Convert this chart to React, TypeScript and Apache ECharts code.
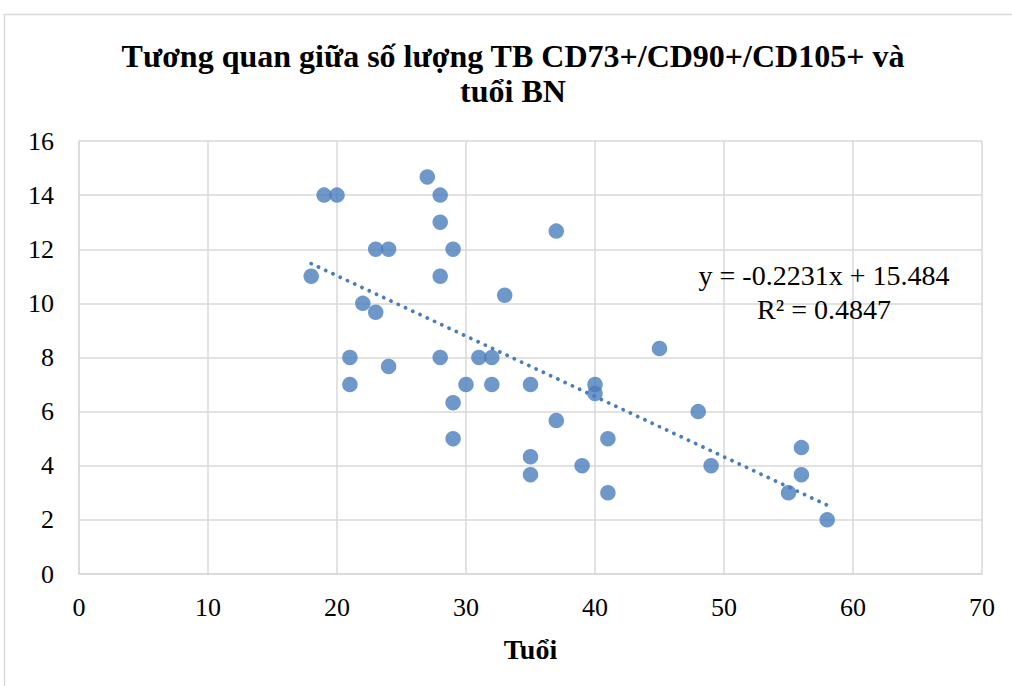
import React, { useEffect, useRef } from "react";
import * as echarts from "echarts";

const titleLines = ["Tương quan giữa số lượng TB CD73+/CD90+/CD105+ và", "tuổi BN"];
const xAxisName = "Tuổi";
const ages = [18, 19, 20, 21, 21, 22, 23, 23, 24, 24, 27, 28, 28, 28, 28, 29, 29, 29, 30, 31, 32, 32, 33, 35, 35, 35, 37, 37, 39, 40, 40, 41, 41, 45, 48, 49, 55, 56, 56, 58];
const counts = [11, 14, 14, 8, 7, 10, 12, 9.67, 12, 7.67, 14.67, 14, 13, 11, 8, 12, 6.33, 5, 7, 8, 8, 7, 10.3, 7, 4.33, 3.67, 12.67, 5.67, 4, 7, 6.67, 5, 3, 8.33, 6, 4, 3, 4.67, 3.67, 2];
const trendSlope = -0.2231;
const trendIntercept = 15.484;
const rSquared = 0.4847;
const xTicks = { min: 0, max: 70, interval: 10 };
const yTicks = { min: 0, max: 16, interval: 2 };

const FONT = "'Liberation Serif', 'Times New Roman', serif";

export default function App() {
  const ref = useRef<HTMLDivElement>(null);
  useEffect(() => {
    if (!ref.current) return;
    const chart = echarts.init(ref.current, undefined, { renderer: "svg" });
    const xMin = Math.min(...ages);
    const xMax = Math.max(...ages);
    const trend = [
      [xMin, trendSlope * xMin + trendIntercept],
      [xMax, trendSlope * xMax + trendIntercept],
    ];
    chart.setOption({
      animation: false,
      backgroundColor: "#ffffff",
      grid: { left: 79, right: 30, top: 141, bottom: 112, containLabel: false },
      xAxis: {
        type: "value",
        min: xTicks.min,
        max: xTicks.max,
        interval: xTicks.interval,
        name: xAxisName,
        nameLocation: "middle",
        nameGap: 61,
        nameTextStyle: { fontFamily: FONT, fontSize: 28, fontWeight: "bold", color: "#000" },
        axisLine: { show: true, lineStyle: { color: "#d9d9d9", width: 1.5 } },
        axisTick: { show: false },
        axisLabel: { fontFamily: FONT, fontSize: 26, color: "#000", margin: 20 },
        splitLine: { show: true, lineStyle: { color: "#d9d9d9", width: 1.5 } },
      },
      yAxis: {
        type: "value",
        min: yTicks.min,
        max: yTicks.max,
        interval: yTicks.interval,
        axisLine: { show: true, lineStyle: { color: "#d9d9d9", width: 1.5 } },
        axisTick: { show: false },
        axisLabel: { fontFamily: FONT, fontSize: 26, color: "#000", margin: 25 },
        splitLine: { show: true, lineStyle: { color: "#d9d9d9", width: 1.5 } },
      },
      series: [
        {
          type: "line",
          data: trend,
          showSymbol: false,
          symbol: "none",
          lineStyle: { color: "#4a7ebb", width: 3.8, type: [0.01, 8], cap: "round" },
          z: 3,
          silent: true,
        },
        {
          type: "scatter",
          data: ages.map((a, i) => [a, counts[i]]),
          symbol: "circle",
          symbolSize: 15.5,
          itemStyle: { color: "#4a7ebb" },
          z: 4,
        },
      ],
      graphic: [
        {
          type: "rect",
          shape: { x: 4.5, y: 14.5, width: 1030, height: 700 },
          style: { fill: "none", stroke: "#d9d9d9", lineWidth: 1.5 },
          silent: true,
        },
        {
          type: "text",
          x: 513,
          y: 56,
          style: {
            text: titleLines[0],
            fontFamily: FONT,
            fontSize: 32,
            fontWeight: "bold",
            fill: "#000",
            align: "center",
            verticalAlign: "middle",
          },
        },
        {
          type: "text",
          x: 513,
          y: 91,
          style: {
            text: titleLines[1],
            fontFamily: FONT,
            fontSize: 32,
            fontWeight: "bold",
            fill: "#000",
            align: "center",
            verticalAlign: "middle",
          },
        },
        {
          type: "text",
          x: 824,
          y: 275,
          style: {
            text: `y = ${trendSlope}x + ${trendIntercept}`,
            fontFamily: FONT,
            fontSize: 28,
            fill: "#000",
            align: "center",
            verticalAlign: "middle",
          },
          z: 10,
        },
        {
          type: "text",
          x: 824,
          y: 309,
          style: {
            text: `R² = ${rSquared}`,
            fontFamily: FONT,
            fontSize: 28,
            fill: "#000",
            align: "center",
            verticalAlign: "middle",
          },
          z: 10,
        },
      ],
    });
    return () => chart.dispose();
  }, []);
  return (
    <div
      ref={ref}
      style={{ position: "absolute", left: 0, top: 0, width: 1012, height: 686 }}
    />
  );
}
